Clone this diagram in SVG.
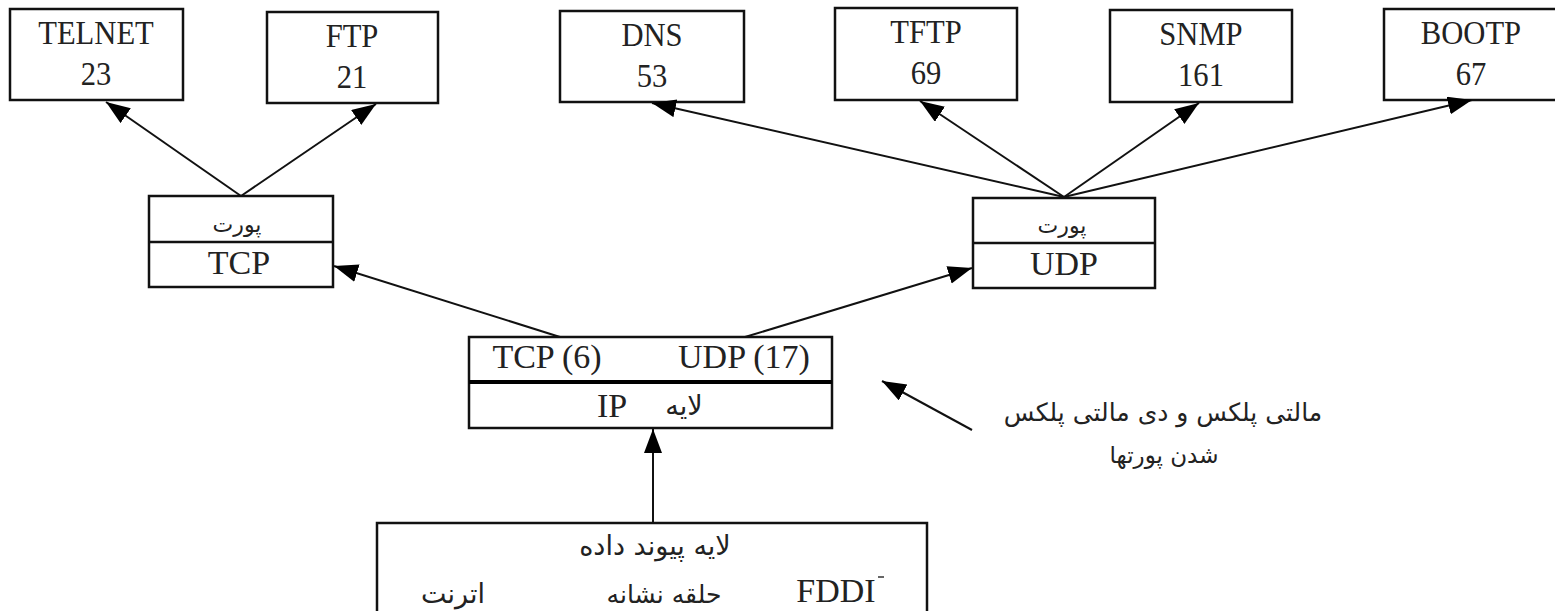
<svg xmlns="http://www.w3.org/2000/svg" width="1555" height="611" viewBox="0 0 1555 611">
  <style>
    .box { fill: #fff; stroke: #111; stroke-width: 2.5; }
    .sep { stroke: #111; stroke-width: 2.5; }
    .sepb { stroke: #000; stroke-width: 4; }
    .lat { font-family: "Liberation Serif", "Times New Roman", serif; font-size: 34px; fill: #222; text-anchor: middle; }
    .top { transform-box: fill-box; transform-origin: center; transform: scaleX(0.9); }
    .fa { font-family: "DejaVu Sans", "Noto Sans", sans-serif; font-size: 22px; fill: #222; text-anchor: middle; direction: rtl; }
    .edge { stroke: #111; stroke-width: 2; fill: none; marker-end: url(#arr); }
  </style>
  <defs>
    <marker id="arr" markerUnits="userSpaceOnUse" markerWidth="26" markerHeight="20" refX="24" refY="9" orient="auto">
      <path d="M0,0 L24,9 L0,18 Z" fill="#000"/>
    </marker>
  </defs>

  <!-- application protocols with their well-known ports -->
  <g id="telnet">
    <rect class="box" x="10" y="9" width="173" height="91"/>
    <text class="lat top" x="96" y="44">TELNET</text>
    <text class="lat top" x="96" y="85">23</text>
  </g>
  <g id="ftp">
    <rect class="box" x="267" y="12" width="171" height="91"/>
    <text class="lat top" x="352" y="47">FTP</text>
    <text class="lat top" x="352" y="88">21</text>
  </g>
  <g id="dns">
    <rect class="box" x="560" y="11" width="184" height="91"/>
    <text class="lat top" x="652" y="46">DNS</text>
    <text class="lat top" x="652" y="87">53</text>
  </g>
  <g id="tftp">
    <rect class="box" x="835" y="8" width="182" height="92"/>
    <text class="lat top" x="926" y="43">TFTP</text>
    <text class="lat top" x="926" y="84">69</text>
  </g>
  <g id="snmp">
    <rect class="box" x="1110" y="10" width="182" height="92"/>
    <text class="lat top" x="1201" y="45">SNMP</text>
    <text class="lat top" x="1201" y="86">161</text>
  </g>
  <g id="bootp">
    <rect class="box" x="1384" y="9" width="175" height="91"/>
    <text class="lat top" x="1471" y="44">BOOTP</text>
    <text class="lat top" x="1471" y="85">67</text>
  </g>

  <!-- transport layer -->
  <g id="tcp">
    <rect class="box" x="149" y="196" width="184" height="91"/>
    <line class="sep" x1="149" y1="242" x2="333" y2="242"/>
    <text class="fa" x="237" y="232">پورت</text>
    <text class="lat" x="239" y="274">TCP</text>
  </g>
  <g id="udp">
    <rect class="box" x="973" y="198" width="182" height="90"/>
    <line class="sep" x1="973" y1="243" x2="1155" y2="243"/>
    <text class="fa" x="1062" y="233">پورت</text>
    <text class="lat" x="1064" y="275">UDP</text>
  </g>

  <!-- network layer -->
  <g id="ip">
    <rect class="box" x="469" y="337" width="363" height="91"/>
    <line class="sepb" x1="469" y1="382" x2="832" y2="382"/>
    <text class="lat" x="547" y="368">TCP (6)</text>
    <text class="lat" x="744" y="368">UDP (17)</text>
    <text class="lat" x="612" y="417">IP</text>
    <text class="fa" x="684" y="415" style="font-size:27px">لایه</text>
  </g>

  <!-- data link layer -->
  <g id="datalink">
    <rect class="box" x="377" y="523" width="550" height="100"/>
    <text class="fa" x="655" y="555" style="font-size:27px">لایه پیوند داده</text>
    <text class="fa" x="453" y="603" style="font-size:27px">اترنت</text>
    <text class="fa" x="664" y="603" style="font-size:25px">حلقه نشانه</text>
    <text class="lat" x="836" y="602">FDDI</text>
    <line x1="878" y1="577" x2="884" y2="577" stroke="#333" stroke-width="1.5"/>
  </g>

  <!-- note -->
  <g id="note">
    <text class="fa" x="1163" y="421" style="font-size:25px">مالتی پلکس  و دی مالتی پلکس</text>
    <text class="fa" x="1164" y="463" style="font-size:23px">شدن پورتها</text>
  </g>

  <g id="connectors">
    <line class="edge" x1="241" y1="196" x2="106" y2="102"/>
    <line class="edge" x1="241" y1="196" x2="376" y2="104"/>
    <line class="edge" x1="1064" y1="197" x2="652" y2="103"/>
    <line class="edge" x1="1064" y1="197" x2="920" y2="101"/>
    <line class="edge" x1="1064" y1="197" x2="1199" y2="103"/>
    <line class="edge" x1="1064" y1="197" x2="1472" y2="100"/>
    <line class="edge" x1="560" y1="337" x2="334" y2="266"/>
    <line class="edge" x1="745" y1="337" x2="972" y2="268"/>
    <line class="edge" x1="653" y1="523" x2="653" y2="429"/>
    <line class="edge" x1="972" y1="430" x2="882" y2="381"/>
  </g>
</svg>
